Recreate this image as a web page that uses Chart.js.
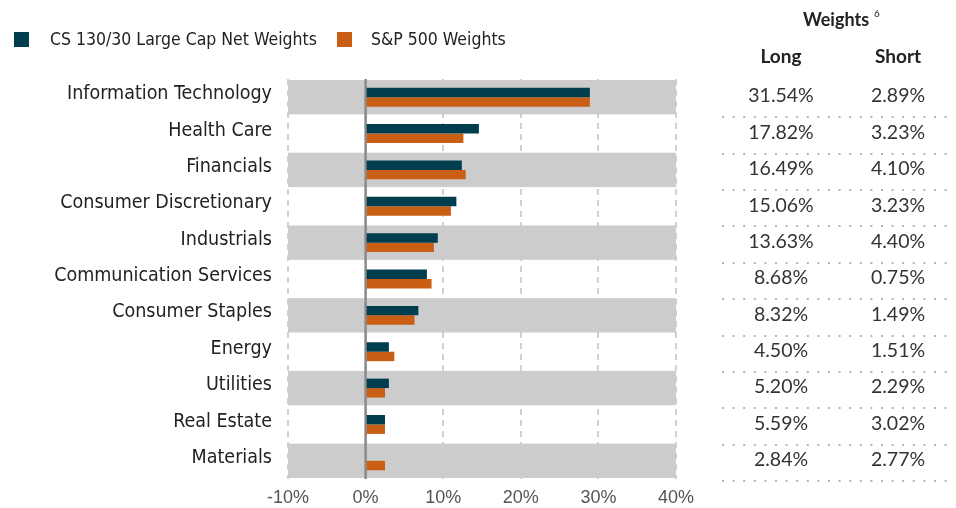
<!DOCTYPE html>
<html>
<head>
<meta charset="utf-8">
<script src="https://cdn.jsdelivr.net/npm/chart.js@4.4.1/dist/chart.umd.min.js"></script>
<style>
  html, body { margin: 0; padding: 0; background: #fff; }
  #wrap { position: relative; width: 956px; height: 508px; }
</style>
</head>
<body>
<div id="wrap"><canvas id="sectorChart" width="956" height="508"></canvas></div>
<script>
const sectors = ['Information Technology', 'Health Care', 'Financials', 'Consumer Discretionary', 'Industrials',
    'Communication Services', 'Consumer Staples', 'Energy', 'Utilities', 'Real Estate', 'Materials'];
const netWeights = [28.9, 14.6, 12.4, 11.7, 9.3, 7.9, 6.8, 3.0, 3.0, 2.5, 0];
const spWeights = [28.9, 12.6, 12.9, 11.0, 8.8, 8.5, 6.3, 3.7, 2.5, 2.5, 2.5];
const longWeights = ['31.54%', '17.82%', '16.49%', '15.06%', '13.63%', '8.68%', '8.32%', '4.50%', '5.20%', '5.59%', '2.84%'];
const shortWeights = ['2.89%', '3.23%', '4.10%', '3.23%', '4.40%', '0.75%', '1.49%', '1.51%', '2.29%', '3.02%', '2.77%'];
const seriesNames = ['CS 130/30 Large Cap Net Weights', 'S&P 500 Weights'];
const xTicks = [-10, 0, 10, 20, 30, 40];

const TEAL = '#003d4f';
const ORANGE = '#c95f14';
const labelFont = '"DejaVu Sans Condensed", "Liberation Sans Narrow", Roboto, sans-serif';
const tableFont = 'Lato, "Noto Sans", sans-serif';

// grey bands on every other row, then the zero line on top
const bandsPlugin = {
    id: 'bands',
    beforeDatasetsDraw(chart) {
        const ctx = chart.ctx;
        const area = chart.chartArea;
        const y = chart.scales.y;
        const x = chart.scales.x;
        const rowH = (area.bottom - area.top) / sectors.length;
        ctx.save();
        ctx.fillStyle = '#cccccc';
        sectors.forEach((s, i) => {
            if (i % 2 === 0) {
                const c = y.getPixelForValue(i);
                ctx.fillRect(area.left, c - rowH / 2 + 1, area.right - area.left, rowH - 2);
            }
        });
        const x0 = x.getPixelForValue(0);
        ctx.strokeStyle = '#8a8a8a';
        ctx.lineWidth = 2.5;
        ctx.beginPath();
        ctx.moveTo(x0, area.top);
        ctx.lineTo(x0, area.bottom);
        ctx.stroke();
        ctx.restore();
    }
};

// legend and the long/short table on the right
const extrasPlugin = {
    id: 'extras',
    afterDraw(chart) {
        const ctx = chart.ctx;
        const area = chart.chartArea;
        const y = chart.scales.y;
        const rowH = (area.bottom - area.top) / sectors.length;
        ctx.save();

        // legend
        ctx.textBaseline = 'middle';
        ctx.textAlign = 'left';
        ctx.font = '17.5px ' + labelFont;
        ctx.fillStyle = TEAL;
        ctx.fillRect(14, 32, 15, 15);
        ctx.fillStyle = '#222';
        ctx.fillText(seriesNames[0], 50, 40);
        ctx.fillStyle = ORANGE;
        ctx.fillRect(337, 32, 15, 15);
        ctx.fillStyle = '#222';
        ctx.fillText(seriesNames[1], 371, 40);

        // table header
        ctx.textAlign = 'center';
        ctx.fillStyle = '#222';
        ctx.font = 'bold 18px ' + tableFont;
        ctx.fillText('Weights', 836, 20);
        ctx.font = '10px ' + tableFont;
        ctx.fillText('6', 877, 14);
        ctx.font = 'bold 19px ' + tableFont;
        ctx.fillText('Long', 781, 57);
        ctx.fillText('Short', 898, 57);

        // rows
        ctx.font = '19.5px ' + tableFont;
        ctx.fillStyle = '#333';
        sectors.forEach((s, i) => {
            const c = y.getPixelForValue(i);
            ctx.fillText(longWeights[i], 781, c - 1);
            ctx.fillText(shortWeights[i], 898, c - 1);
            ctx.strokeStyle = '#9a9a9a';
            ctx.lineWidth = 1.5;
            ctx.setLineDash([2, 8.6]);
            ctx.beginPath();
            ctx.moveTo(722, Math.round(c + rowH / 2) + 2);
            ctx.lineTo(950, Math.round(c + rowH / 2) + 2);
            ctx.stroke();
        });
        ctx.restore();
    }
};

new Chart(document.getElementById('sectorChart').getContext('2d'), {
    type: 'bar',
    data: {
        labels: sectors,
        datasets: [{
            label: seriesNames[0],
            data: netWeights,
            backgroundColor: TEAL,
            categoryPercentage: 0.52,
            barPercentage: 1.0
        }, {
            label: seriesNames[1],
            data: spWeights,
            backgroundColor: ORANGE,
            categoryPercentage: 0.52,
            barPercentage: 1.0
        }]
    },
    options: {
        indexAxis: 'y',
        responsive: false,
        animation: false,
        layout: {
            padding: { top: 79, right: 280, bottom: 0, left: 0 }
        },
        plugins: {
            legend: { display: false },
            tooltip: { enabled: false }
        },
        scales: {
            x: {
                min: xTicks[0],
                max: xTicks[xTicks.length - 1],
                afterBuildTicks: (scale) => { scale.ticks = xTicks.map(v => ({ value: v })); },
                afterFit: (scale) => { scale.height = 29; },
                grid: {
                    color: '#d0d0d0',
                    lineWidth: 2,
                    drawTicks: false
                },
                border: { display: false, dash: [6, 5] },
                ticks: {
                    padding: 8,
                    color: '#555',
                    font: { family: '"Liberation Sans", Arial, sans-serif', size: 18 },
                    callback: (v) => v + '%'
                }
            },
            y: {
                afterFit: (scale) => { scale.width = 288; },
                border: { display: false },
                grid: { display: false, drawTicks: false },
                ticks: {
                    padding: 16,
                    labelOffset: -3,
                    color: '#222',
                    font: { family: labelFont, size: 19.5 }
                }
            }
        }
    },
    plugins: [bandsPlugin, extrasPlugin]
});
</script>
</body>
</html>
